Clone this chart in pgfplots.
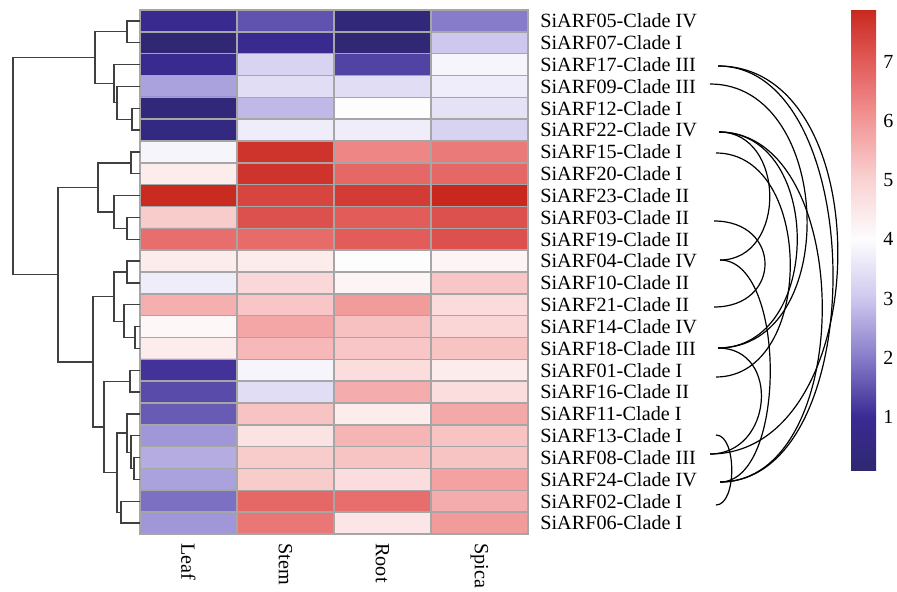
\documentclass[border=0pt]{standalone}
\usepackage{fontspec}
\setmainfont{Liberation Serif}
\usepackage{pgfplots}
\usepackage{pgfplotstable}
\pgfplotsset{compat=1.18}

\pgfplotstableread{
x y v
0.5 0.5 0.9
1.5 0.5 1.5
2.5 0.5 0.3
3.5 0.5 2.0
0.5 1.5 0.2
1.5 1.5 0.9
2.5 1.5 0.2
3.5 1.5 3.0
0.5 2.5 0.9
1.5 2.5 3.2
2.5 2.5 1.3
3.5 2.5 3.85
0.5 3.5 2.5
1.5 3.5 3.4
2.5 3.5 3.4
3.5 3.5 3.7
0.5 4.5 0.3
1.5 4.5 2.8
2.5 4.5 4.0
3.5 4.5 3.5
0.5 5.5 0.5
1.5 5.5 3.7
2.5 5.5 3.7
3.5 5.5 3.2
0.5 6.5 3.85
1.5 6.5 7.7
2.5 6.5 6.3
3.5 6.5 6.5
0.5 7.5 4.4
1.5 7.5 7.7
2.5 7.5 6.8
3.5 7.5 6.8
0.5 8.5 7.85
1.5 8.5 7.4
2.5 8.5 7.55
3.5 8.5 7.9
0.5 9.5 5.1
1.5 9.5 7.2
2.5 9.5 7.0
3.5 9.5 7.2
0.5 10.5 6.7
1.5 10.5 6.75
2.5 10.5 7.0
3.5 10.5 7.2
0.5 11.5 4.4
1.5 11.5 4.4
2.5 11.5 4.0
3.5 11.5 4.2
0.5 12.5 3.7
1.5 12.5 4.85
2.5 12.5 4.2
3.5 12.5 5.2
0.5 13.5 5.6
1.5 13.5 5.2
2.5 13.5 5.95
3.5 13.5 4.8
0.5 14.5 4.15
1.5 14.5 5.75
2.5 14.5 5.3
3.5 14.5 4.9
0.5 15.5 4.4
1.5 15.5 5.45
2.5 15.5 5.2
3.5 15.5 5.25
0.5 16.5 1.1
1.5 16.5 3.85
2.5 16.5 4.75
3.5 16.5 4.4
0.5 17.5 1.4
1.5 17.5 3.4
2.5 17.5 5.65
3.5 17.5 4.75
0.5 18.5 1.6
1.5 18.5 5.25
2.5 18.5 4.4
3.5 18.5 5.7
0.5 19.5 2.35
1.5 19.5 4.6
2.5 19.5 5.5
3.5 19.5 5.25
0.5 20.5 2.65
1.5 20.5 5.1
2.5 20.5 5.25
3.5 20.5 5.25
0.5 21.5 2.5
1.5 21.5 5.1
2.5 21.5 4.75
3.5 21.5 5.85
0.5 22.5 1.85
1.5 22.5 6.8
2.5 22.5 6.7
3.5 22.5 5.65
0.5 23.5 2.35
1.5 23.5 6.55
2.5 23.5 4.55
3.5 23.5 5.95
}\heat

\pgfplotsset{
  colormap={hm}{
    rgb255(0pt)=(46,40,112);
    rgb255(92pt)=(58,42,148);
    rgb255(192pt)=(134,124,202);
    rgb255(292pt)=(206,200,238);
    rgb255(392pt)=(253,253,254);
    rgb255(492pt)=(250,210,210);
    rgb255(592pt)=(242,152,152);
    rgb255(692pt)=(226,92,90);
    rgb255(782pt)=(200,40,30)
  },
  dend/.style={no marks, line width=0.65pt, color=black!75},
}
\tikzset{arcst/.style={line width=0.6pt, color=black}}

\newcommand{\den}[5]{\addplot[dend] coordinates {(#2,#3) (#1,#3) (#1,#5) (#4,#5)};}
\newcommand{\arc}[5]{\draw[arcst] (axis cs:#1,#2) .. controls (axis cs:#1+#5,#2) and (axis cs:#3+#5,#4) .. (axis cs:#3,#4);}

\begin{document}
\begin{tikzpicture}
\path[use as bounding box] (0,0) rectangle (448.5pt,296pt);

\begin{axis}[
  at={(70pt,29pt)}, anchor=south west,
  scale only axis, width=194pt, height=262pt,
  xmin=0, xmax=4, ymin=0, ymax=24, y dir=reverse,
  colormap name=hm,
  point meta min=0.08, point meta max=7.9,
  xtick={0.5,1.5,2.5,3.5},
  xticklabels={Leaf,Stem,Root,Spica},
  ytick={0.5,1.5,...,23.5},
  yticklabels={SiARF05-Clade IV,SiARF07-Clade I,SiARF17-Clade III,SiARF09-Clade III,SiARF12-Clade I,SiARF22-Clade IV,SiARF15-Clade I,SiARF20-Clade I,SiARF23-Clade II,SiARF03-Clade II,SiARF19-Clade II,SiARF04-Clade IV,SiARF10-Clade II,SiARF21-Clade II,SiARF14-Clade IV,SiARF18-Clade III,SiARF01-Clade I,SiARF16-Clade II,SiARF11-Clade I,SiARF13-Clade I,SiARF08-Clade III,SiARF24-Clade IV,SiARF02-Clade I,SiARF06-Clade I},
  yticklabel pos=right,
  major tick length=0pt, minor tick length=0pt,
  minor xtick={0,1,2,3,4},
  minor ytick={0,1,...,24},
  xminorgrids, yminorgrids,
  minor grid style={color=black!35, line width=0.75pt},
  axis line style={color=black!35, line width=0.75pt},
  axis on top,
  ticklabel style={font=\fontsize{10.1}{12}\selectfont},
  xticklabel style={rotate=-90, anchor=west, inner xsep=4.5pt, inner ysep=0pt},
  yticklabel style={anchor=west, inner xsep=6pt, inner ysep=0pt},
  colorbar,
  colorbar style={
    at={(parent axis.north east)}, anchor=north west,
    xshift=153pt, yshift=0.5pt,
    scale only axis, width=12.5pt, height=231pt,
    axis line style={draw=none},
    ytick={1,2,...,7},
    major tick length=0pt,
    yticklabel style={font=\fontsize{10}{11}\selectfont, anchor=west, inner xsep=3.5pt},
    /pgf/number format/assume math mode=true,
  },
]
\addplot[matrix plot*, mesh/cols=4, point meta=explicit] table[x=x, y=y, meta=v] {\heat};
\end{axis}

\begin{axis}[
  at={(0pt,0pt)}, anchor=south west,
  scale only axis, width=448.5pt, height=296pt,
  xmin=0, xmax=897, ymin=0, ymax=592, y dir=reverse,
  hide axis, clip=false,
]
% dendrogram merges: height, child1 x, child1 y, child2 x, child2 y
\den{127}{140}{20.9}{140}{42.7}
\den{132}{140}{108.3}{140}{130.1}
\den{117}{140}{86.4}{132}{119.2}
\den{114}{140}{64.6}{117}{102.8}
\den{95}{127}{31.8}{114}{83.7}
\den{131}{140}{151.9}{140}{173.8}
\den{127}{140}{217.4}{140}{239.3}
\den{114}{140}{195.6}{127}{228.4}
\den{98}{131}{162.9}{114}{212}
\den{127}{140}{261.1}{140}{283.0}
\den{135}{140}{326.6}{140}{348.4}
\den{124}{140}{304.8}{135}{337.5}
\den{114}{127}{272.1}{124}{321.2}
\den{130}{140}{370.3}{140}{392.1}
\den{134}{140}{457.6}{140}{479.5}
\den{131}{140}{435.8}{134}{468.6}
\den{127}{140}{413.9}{131}{452.2}
\den{121}{140}{501.3}{140}{523.1}
\den{117}{127}{433.1}{121}{512.2}
\den{104}{130}{381.2}{117}{472.7}
\den{93}{114}{296.7}{104}{427}
\den{58}{98}{187.5}{93}{361.9}
\den{13}{95}{57.8}{58}{274.7}
% collinearity arcs
\arc{718}{66}{710}{454}{165}
\arc{718}{66}{720}{482}{152}
\arc{710}{84}{718}{348}{124}
\arc{719}{132}{720}{260}{67}
\arc{719}{132}{720}{482}{137}
\arc{719}{132}{718}{348}{105}
\arc{716}{153}{716}{377}{99}
\arc{714}{221}{714}{307}{68}
\arc{720}{260}{720}{482}{67}
\arc{718}{348}{710}{454}{63}
\arc{716}{435}{716}{505}{21}
\end{axis}
\end{tikzpicture}
\end{document}
